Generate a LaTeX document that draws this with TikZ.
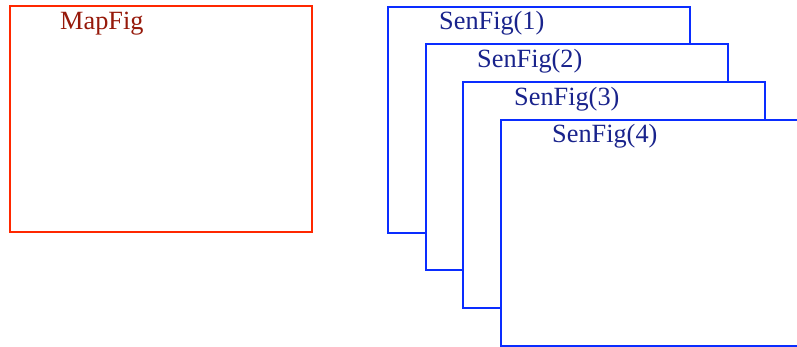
\documentclass[tikz,border=0pt]{standalone}
\usepackage{fontspec}
\setmainfont{Liberation Serif}
\definecolor{mapframe}{RGB}{255,40,0}
\definecolor{maptext}{RGB}{150,25,10}
\definecolor{senframe}{RGB}{10,45,255}
\definecolor{sentext}{RGB}{25,35,140}
\tikzset{
  figbox/.style={draw, line width=2.6pt, fill=white, anchor=north west,
    inner sep=0pt, outer sep=0pt, minimum width=302pt, minimum height=226pt},
  mapbox/.style={figbox, draw=mapframe},
  senbox/.style={figbox, draw=senframe},
  figlabel/.style={anchor=base west, inner sep=0pt,
    font=\fontsize{26.3pt}{30pt}\selectfont},
}
\begin{document}
\begin{tikzpicture}[x=1pt,y=-1pt]
  \useasboundingbox (0,0) rectangle (797,347);
  % map window
  \node[mapbox] (map) at (10,6) {};
  \node[figlabel, text=maptext] (maplabel) at (60,30) {MapFig};
  % stacked sensor windows, back to front
  \node[senbox] (sen1) at (388,7) {};
  \node[figlabel, text=sentext] (senlabel1) at (439,30) {SenFig(1)};
  \node[senbox] (sen2) at (426,44) {};
  \node[figlabel, text=sentext] (senlabel2) at (477,68) {SenFig(2)};
  \node[senbox] (sen3) at (463,82) {};
  \node[figlabel, text=sentext] (senlabel3) at (514,106) {SenFig(3)};
  \node[senbox] (sen4) at (501,120) {};
  \node[figlabel, text=sentext] (senlabel4) at (552,143) {SenFig(4)};
\end{tikzpicture}
\end{document}
